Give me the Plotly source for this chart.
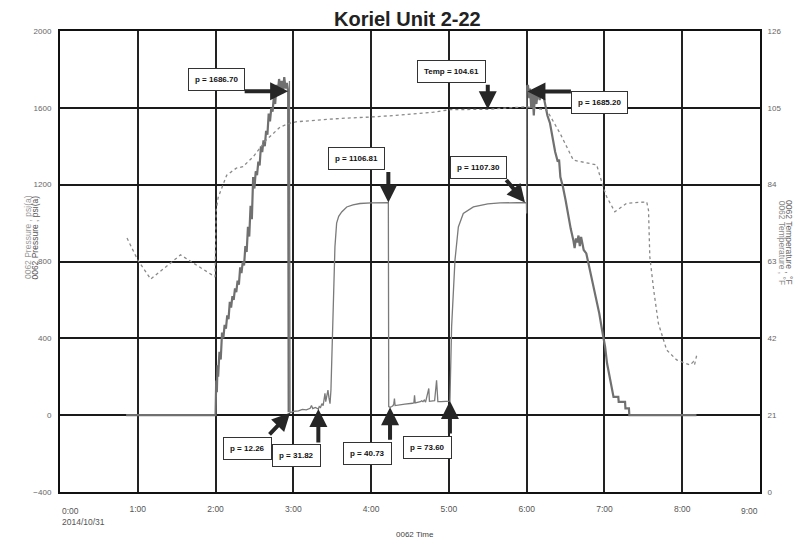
import plotly.graph_objects as go
import pandas as pd

BASE = pd.Timestamp("2014-10-31 00:00")

# ---------------- data (minutes after midnight) ----------------
p1_min = [51, 119.5, 120, 120.5, 121, 121.5, 122, 123, 124, 125, 126, 127, 128, 129, 130, 131, 132, 133,
          134, 135, 136, 137, 138, 139, 140, 141, 142, 143, 144, 145, 146, 147, 148, 149, 150, 151,
          152, 153, 154, 155, 156, 157, 158, 159, 160, 161, 162, 163, 164, 165, 166, 167, 168, 169,
          170, 171, 172, 173, 174, 175, 176, 176.4, 176.6,
          360.3, 361, 362, 362.6, 363.5, 364.5, 365.5, 366.4, 367.5, 368.7, 370, 371, 372.6, 375, 376, 378,
          379, 380.5, 382, 384, 385, 386, 388, 390, 392, 394, 396, 397, 398, 399, 400, 401, 402,
          404, 406, 408, 410, 412, 414, 416, 418, 420.5, 422, 424.5, 426, 427, 430.7, 431, 435.9,
          436.2, 438.9, 439.2, 491]
p1_val = [0, 0, 0, 180, 120, 260, 200, 330, 290, 430, 400, 470, 450, 520, 500, 590, 560, 620,
          600, 660, 640, 700, 680, 770, 740, 800, 780, 880, 850, 980, 930, 1090, 1020, 1240, 1180, 1270,
          1250, 1320, 1300, 1400, 1370, 1430, 1400, 1480, 1460, 1570, 1530, 1600, 1580, 1660, 1620, 1720, 1680, 1750,
          1700, 1740, 1690, 1760, 1700, 1730, 1686.7, 15, None,
          1685.2, 1720, 1650, 1700, 1600, 1690, 1560, 1675, 1620, 1690, 1640, 1680, 1675, 1600, 1560, 1520,
          1480, 1414, 1370, 1320, 1330, 1240, 1188, 1120, 1040, 970, 911, 870, 920, 900, 935, 880, 928,
          860, 842, 780, 720, 660, 599, 530, 450, 356, 270, 182, 120, 95, 95, 69, 69,
          35, 35, 0, 0]

p2_min = [177, 177.5, 180, 184, 187, 190, 193, 194, 195, 197, 199.3, 200, 201, 202, 203, 204.4, 205,
          206, 206.7, 207.5, 208.3, 209, 210.8, 212.1, 213.4, 215, 217.3, 221.2, 226, 231.4, 240, 253.3,
          253.6, 254.6, 256, 257, 257.5, 258, 258.5, 262, 266, 272, 273, 273.5, 274, 278, 279, 280, 281,
          282, 284.5, 285, 289, 290.5, 291.5, 294, 297, 300.8, 302.1, 304.7, 307.3, 311.1, 318.9, 330,
          339.5, 350, 358.7, 359.8, 360, 360.1, 360.3]
p2_val = [1740, 12.26, 20, 22, 30, 28, 36, 50, 34, 40, 31.82, 45, 40, 60, 50, 114, 70,
          120, 130, 90, 60, 130, 529, 876, 1000, 1035, 1058, 1084, 1095, 1102, 1105, 1106.81,
          45, 40.73, 45, 50, 60, 87, 50, 55, 58, 62, 64, 104, 64, 70, 75, 70, 78,
          68, 139, 72, 75, 182, 70, 70, 71, 73.6, 460, 807, 980, 1050, 1084, 1100,
          1105, 1106, 1107.3, 1107, 1050, 1718, 1690]

t_min = [51.7, 60, 70, 93, 119.6, 120, 120.5, 122, 125, 128.6, 136, 141, 149, 159, 170, 177.5, 182.6,
         198, 216, 240, 262, 288, 301, 330, 345, 360, 375.5, 385.8, 396, 401, 414, 419, 421.7, 428,
         437, 452.6, 454, 455, 458, 461.6, 468, 475.7, 486, 488.6, 489.5, 491.6]
t_val = [69.4, 63.4, 58.2, 64.8, 58.8, 68, 77, 80.5, 83.4, 86.6, 88.5, 88.9, 91.6, 96.2, 99.8, 100.8, 101.2,
         101.7, 102.1, 102.5, 103, 103.8, 104.5, 104.61, 104.9, 105.3, 104.4, 98, 90.7, 90.3, 89.4, 83.4, 80.7, 76.6,
         78.9, 79.3, 77, 64.3, 55.2, 46.1, 38.8, 36.1, 34.7, 35.6, 34.8, 38]

# annotation callouts: label, tip minute, tip value, axis
ann_labels = ["p = 1686.70", "Temp = 104.61", "p = 1685.20", "p = 1106.81", "p = 1107.30",
              "p = 12.26", "p = 31.82", "p = 40.73", "p = 73.60"]
ann_min = [176, 330, 360.6, 253.3, 358.7, 177.5, 199.3, 254.6, 300.8]
ann_val = [1686.7, 104.61, 1685.2, 1106.81, 1107.3, 12.26, 31.82, 40.73, 73.6]
ann_axis = ["y", "y2", "y", "y", "y", "y", "y", "y", "y"]

hour_ticks = list(range(1, 9))
hour_text = [f"{h}:00" for h in hour_ticks]

# ---------------- style (pixel offsets) ----------------
arrow_off = [(-45, 0), (0, -26), (45, 0), (0, -32), (-20, -24), (-22, 23), (0, 35), (0, 34), (0, 34)]
box_off = [(-72, -12), (-36, -38), (72, 11), (-32, -44), (-46, -35), (-43, 36), (-22, 46), (-23, 46), (-22, 46)]


def ts(mins):
    return [None if m is None else BASE + pd.Timedelta(minutes=m) for m in mins]


fig = go.Figure()
fig.add_trace(go.Scatter(x=ts(t_min), y=t_val, mode="lines", yaxis="y2", name="0062 Temperature",
                         line=dict(color="#8a8a8a", width=1.3, dash="dot")))
fig.add_trace(go.Scatter(x=ts(p2_min), y=p2_val, mode="lines", name="0062 Pressure",
                         line=dict(color="#7a7a7a", width=1.3)))
fig.add_trace(go.Scatter(x=ts(p1_min), y=p1_val, mode="lines", name="0062 Pressure",
                         line=dict(color="#707070", width=2.2)))

annotations = []
for lab, m, v, ax_name, (aax, aay), (bax, bay) in zip(ann_labels, ann_min, ann_val, ann_axis, arrow_off, box_off):
    xt = BASE + pd.Timedelta(minutes=m)
    annotations.append(dict(x=xt, y=v, xref="x", yref=ax_name, text="", showarrow=True,
                            ax=aax, ay=aay, arrowhead=2, arrowsize=0.9, arrowwidth=4,
                            arrowcolor="#262626", standoff=0, startstandoff=0))
    annotations.append(dict(x=xt, y=v, xref="x", yref=ax_name, text="<b>" + lab + "</b>", showarrow=True,
                            ax=bax, ay=bay, arrowcolor="rgba(0,0,0,0)", arrowwidth=0.1,
                            font=dict(family="Arial", size=8, color="#111"),
                            bgcolor="white", bordercolor="#333", borderwidth=1, borderpad=6))

AX = dict(family="Arial", size=8.5)
# title, axis titles and edge tick labels
annotations += [
    dict(xref="paper", yref="paper", x=0.496, y=1.026, xanchor="center", yanchor="middle", showarrow=False,
         text="<b>Koriel Unit 2-22</b>", font=dict(family="Arial", size=20, color="#222")),
    dict(xref="paper", yref="paper", x=0, y=-0.025, xanchor="left", yanchor="top", showarrow=False,
         align="left", text="0:00<br>2014/10/31", font=dict(family="Arial", size=8.5, color="#555")),
    dict(xref="paper", yref="paper", x=1, y=-0.025, xanchor="right", yanchor="top", showarrow=False,
         text="9:00", font=dict(family="Arial", size=8.5, color="#555")),
    dict(xref="paper", yref="paper", x=0.507, y=-0.078, xanchor="center", yanchor="top", showarrow=False,
         text="0062 Time", font=dict(family="Arial", size=8, color="#444")),
    dict(xref="paper", yref="paper", x=-0.0457, y=0.553, xanchor="center", yanchor="middle", showarrow=False,
         textangle=-90, text="0062 Pressure , psi(a)", font=dict(AX, color="#9a9a9a")),
    dict(xref="paper", yref="paper", x=-0.035, y=0.553, xanchor="center", yanchor="middle", showarrow=False,
         textangle=-90, text="0062 Pressure , psi(a)", font=dict(AX, color="#555")),
    dict(xref="paper", yref="paper", x=1.0414, y=0.54, xanchor="center", yanchor="middle", showarrow=False,
         textangle=90, text="0062 Temperature , °F", font=dict(AX, color="#666")),
    dict(xref="paper", yref="paper", x=1.032, y=0.54, xanchor="center", yanchor="middle", showarrow=False,
         textangle=90, text="0062 Temperature , °F", font=dict(AX, color="#8a8a8a")),
]

# page places the plot div 8px from the top-left corner; size/margins compensate
fig.update_layout(
    width=804, height=533,
    margin=dict(l=52, r=52, t=23, b=49),
    paper_bgcolor="white", plot_bgcolor="white",
    showlegend=False,
    xaxis=dict(type="date", range=[BASE, BASE + pd.Timedelta(hours=9)],
               tickvals=[BASE + pd.Timedelta(hours=h) for h in hour_ticks], ticktext=hour_text,
               showgrid=True, gridcolor="#222", gridwidth=1.6,
               showline=True, mirror=True, linecolor="#111", linewidth=2,
               ticks="outside", ticklen=8, tickcolor="rgba(0,0,0,0)",
               tickfont=dict(family="Arial", size=8.5, color="#555"), zeroline=False, automargin=False),
    yaxis=dict(range=[-400, 2000], tickvals=[-400, 0, 400, 800, 1200, 1600, 2000],
               showgrid=True, gridcolor="#1a1a1a", gridwidth=2,
               showline=True, mirror=True, linecolor="#111", linewidth=2, zeroline=False,
               ticks="outside", ticklen=5, tickcolor="rgba(0,0,0,0)", automargin=False,
               tickfont=dict(family="Arial", size=8, color="#666")),
    yaxis2=dict(range=[0, 126], tickvals=[0, 21, 42, 63, 84, 105, 126], overlaying="y", side="right",
                showgrid=False, zeroline=False, showline=False, automargin=False,
                ticks="outside", ticklen=5, tickcolor="rgba(0,0,0,0)",
                tickfont=dict(family="Arial", size=8, color="#666")),
    annotations=annotations,
)

fig.write_html("out.html")
